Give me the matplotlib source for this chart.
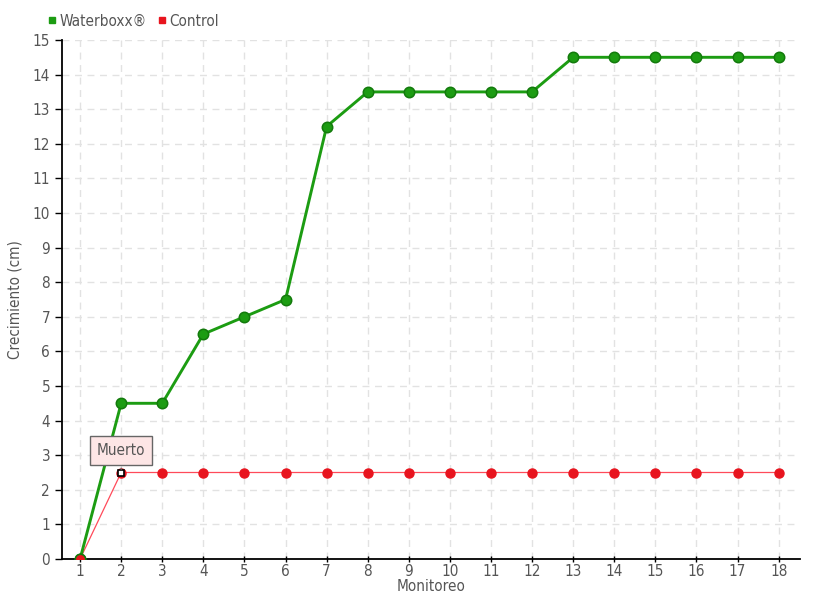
import matplotlib
matplotlib.use("Agg")
import matplotlib.pyplot as plt
from matplotlib.lines import Line2D

plt.rcParams['font.family'] = ['DejaVu Sans']
plt.rcParams['font.stretch'] = 'condensed'

monitoreo = list(range(1, 19))
waterboxx = [0, 4.5, 4.5, 6.5, 7, 7.5, 12.5, 13.5, 13.5, 13.5, 13.5, 13.5, 14.5, 14.5, 14.5, 14.5, 14.5, 14.5]
control = [0] + [2.5] * 17
yticks = list(range(0, 16))

fig = plt.figure(figsize=(8.2, 6), dpi=100)
ax = fig.add_axes([62/820, 41/600, 738/820, 519/600])

txtc = '#555555'
ax.plot(monitoreo, control, color='#ff4a5a', lw=0.9, zorder=3)
ax.plot(monitoreo, control, ls='none', marker='o', ms=6.5, mfc='#e8141e', mec='#e8141e', zorder=4)
ax.plot(monitoreo, waterboxx, color='#1c9c12', lw=2.1, zorder=5,
        marker='o', ms=7.5, mfc='#1c9c12', mec='#137a0c', mew=1.1)
# first control point on top
ax.plot([monitoreo[0]], [control[0]], ls='none', marker='o', ms=7.5, mfc='#e8141e', mec='#137a0c', mew=1.1, zorder=6)
# annotated point
ax.plot([monitoreo[1]], [control[1]], ls='none', marker='s', ms=4.5, mfc='white', mec='black', mew=1.2, zorder=7)
ax.annotate('Muerto', xy=(monitoreo[1], control[1]), xytext=(0, 16), textcoords='offset points',
            ha='center', va='center', fontsize=11, color=txtc,
            bbox=dict(boxstyle='square,pad=0.45', fc='#fde6e6', ec='#666666', lw=1),
            arrowprops=dict(arrowstyle='-', color='#666666', lw=0.8), zorder=8)

ax.set_xlim(0.56, 18.52)
ax.set_ylim(0, 15)
ax.set_xticks(monitoreo)
ax.set_yticks(yticks)
ax.tick_params(axis='both', colors='black', labelcolor=txtc, labelsize=11, length=5, width=1)
ax.tick_params(axis='x', direction='inout', pad=1)
ax.grid(True, color='#e2e2e2', ls=(0, (5, 4)), lw=1)
for s in ['top', 'right']:
    ax.spines[s].set_visible(False)
for s in ['left', 'bottom']:
    ax.spines[s].set_linewidth(1.3)
ax.set_axisbelow(True)
ax.set_xlabel('Monitoreo', fontsize=11, color=txtc, labelpad=0)
ax.set_ylabel('Crecimiento (cm)', fontsize=11, color=txtc, labelpad=7)

handles = [Line2D([], [], ls='none', marker='s', ms=5, mfc='#1c9c12', mec='#1c9c12'),
           Line2D([], [], ls='none', marker='s', ms=5, mfc='#e8141e', mec='#e8141e')]
fig.legend(handles, ['Waterboxx®', 'Control'], loc='center left', bbox_to_anchor=(47/820, 1 - 21/600),
           ncol=2, frameon=False, fontsize=11, handlelength=0.6, handletextpad=0.2, columnspacing=0.7,
           labelcolor=txtc, borderaxespad=0, borderpad=0)

fig.savefig('out.png', dpi=100)
